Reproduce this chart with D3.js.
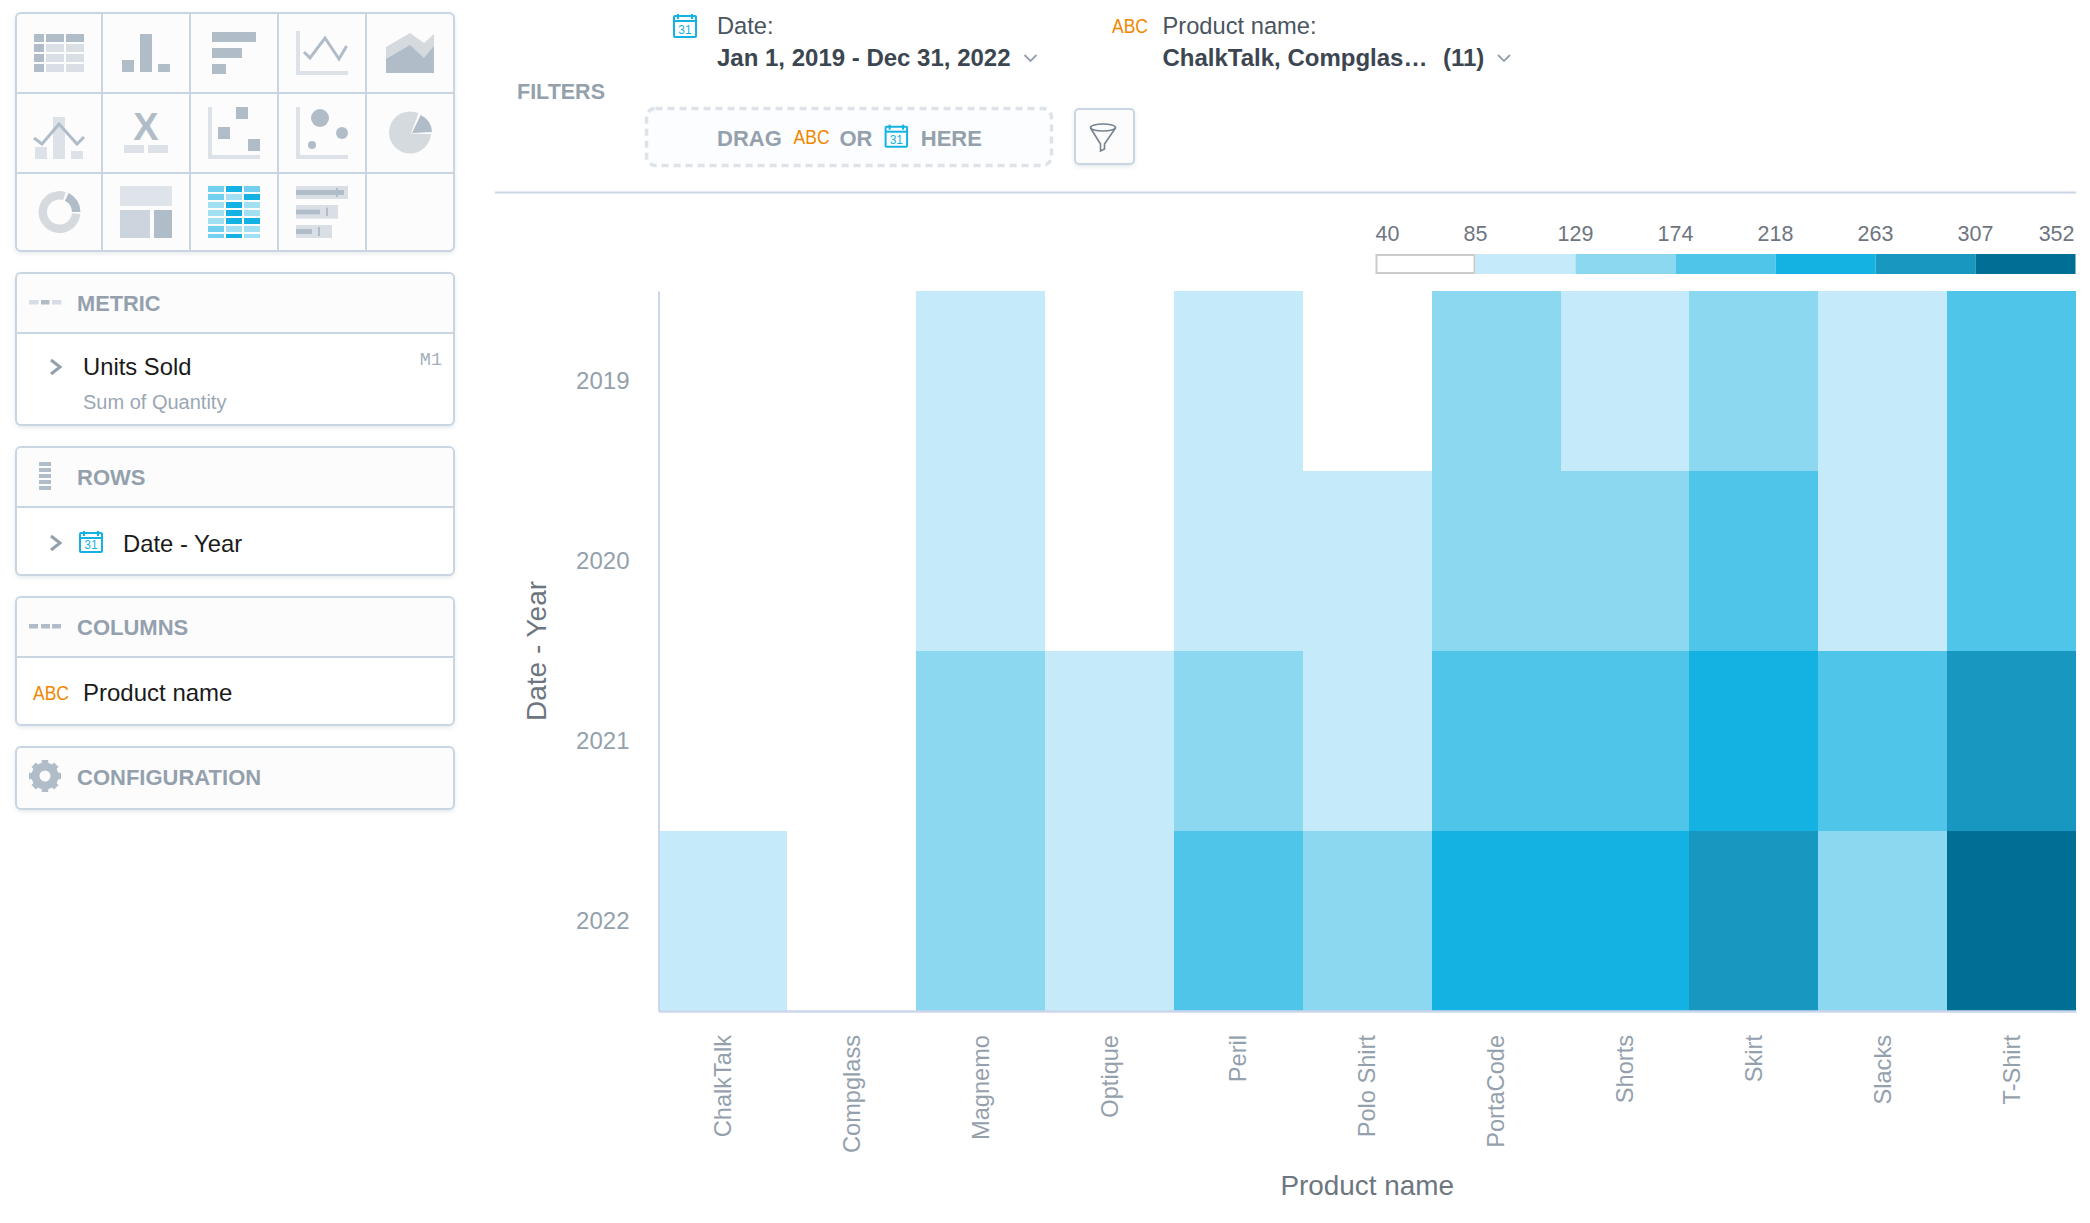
<!DOCTYPE html>
<html>
<head>
<meta charset="utf-8">
<title>Units Sold heatmap</title>
<script src="https://cdn.jsdelivr.net/npm/d3@7"></script>
<style>
  html, body { margin: 0; padding: 0; background: #fff; }
  svg { display: block; }
  text { font-family: "Liberation Sans", Arial, sans-serif; }
  .panel { filter: drop-shadow(0 2px 2px rgba(20, 56, 93, 0.1)); }
</style>
</head>
<body>
<div id="chart"></div>
<script>
// Chart values
const products = ['ChalkTalk', 'Compglass', 'Magnemo', 'Optique', 'Peril', 'Polo Shirt', 'PortaCode', 'Shorts', 'Skirt', 'Slacks', 'T-Shirt'];
const years = ['2019', '2020', '2021', '2022'];
const units2019 = [48, 40, 104, 52, 97, 70, 141, 102, 150, 110, 190];
const units2020 = [55, 44, 112, 61, 108, 92, 155, 133, 185, 118, 205];
const units2021 = [66, 48, 150, 88, 168, 124, 196, 205, 245, 178, 290];
const units2022 = [95, 72, 146, 113, 198, 160, 232, 240, 300, 165, 352];
const legendTicks = [40, 85, 129, 174, 218, 263, 307, 352];
const legendColors = ['#ffffff', '#c5ebfa', '#8cd8f1', '#4fc5ea', '#14b2e2', '#1898c0', '#006f95'];

const unitsByYear = [units2019, units2020, units2021, units2022];

const GREY_TEXT = '#94a1ad';
const BORDER = '#c9d5e3';
const ICON_DARK = '#b0bdc8';
const ICON_LIGHT = '#dde2e8';
const CYAN = '#14b2e2';
const ORANGE = '#f18700';

const svg = d3.select('#chart').append('svg')
    .attr('width', 2090)
    .attr('height', 1223)
    .attr('viewBox', '0 0 2090 1223');

// small helpers for the application chrome around the chart
function addText(parent, str, x, y, size, color, weight, anchor) {
    return parent.append('text')
        .attr('x', x)
        .attr('y', y)
        .attr('font-size', size)
        .attr('fill', color)
        .attr('font-weight', weight || 'normal')
        .attr('text-anchor', anchor || 'start')
        .text(str);
}

function addRect(parent, x, y, w, h, fill) {
    return parent.append('rect')
        .attr('x', x).attr('y', y)
        .attr('width', w).attr('height', h)
        .attr('fill', fill);
}

function addCalendar(parent, x, y, w, h) {
    const g = parent.append('g');
    g.append('rect')
        .attr('x', x + 1).attr('y', y + 2)
        .attr('width', w - 2).attr('height', h - 3)
        .attr('rx', 1)
        .attr('fill', 'none').attr('stroke', CYAN).attr('stroke-width', 2);
    addRect(g, x + 1, y + 6, w - 2, 2, CYAN);
    addRect(g, x + 4, y, 2, 5, CYAN);
    addRect(g, x + w - 6, y, 2, 5, CYAN);
    addText(g, '31', x + w / 2, y + h - 4, 12, CYAN, 'normal', 'middle');
}

// the ABC glyphs are tall and narrow in the original
function addAbc(parent, x, y) {
    addText(parent, 'ABC', x, y, 20, ORANGE)
        .attr('textLength', 36)
        .attr('lengthAdjust', 'spacingAndGlyphs');
}

function addChevronRight(parent, cx, cy) {
    parent.append('path')
        .attr('d', `M${cx - 4.5},${cy - 7}L${cx + 4.5},${cy}L${cx - 4.5},${cy + 7}`)
        .attr('fill', 'none').attr('stroke', GREY_TEXT).attr('stroke-width', 3);
}

function addChevronDown(parent, cx, cy) {
    parent.append('path')
        .attr('d', `M${cx - 6},${cy - 3}L${cx},${cy + 3}L${cx + 6},${cy - 3}`)
        .attr('fill', 'none').attr('stroke', GREY_TEXT).attr('stroke-width', 1.8);
}

function addPanel(y, height, dividerY) {
    const g = svg.append('g').attr('class', 'panel');
    g.append('rect')
        .attr('x', 16).attr('y', y)
        .attr('width', 438).attr('height', height)
        .attr('rx', 5)
        .attr('fill', dividerY ? '#fff' : '#fcfcfd')
        .attr('stroke', BORDER).attr('stroke-width', 2);
    if (dividerY) {
        g.append('path')
            .attr('d', `M17,${dividerY}V${y + 5}Q17,${y + 1} 21,${y + 1}H449Q453,${y + 1} 453,${y + 5}V${dividerY}Z`)
            .attr('fill', '#fcfcfd');
        addRect(g, 16, dividerY - 1, 438, 2, BORDER);
    }
    return svg.append('g');
}

// Visualization type picker
function drawPicker() {
    const g = svg.append('g').attr('class', 'panel');
    g.append('rect')
        .attr('x', 16).attr('y', 13)
        .attr('width', 438).attr('height', 238)
        .attr('rx', 5)
        .attr('fill', '#fcfcfd')
        .attr('stroke', BORDER).attr('stroke-width', 2);
    [102, 190, 278, 366].forEach(x => addRect(g, x - 1, 13, 2, 238, BORDER));
    [93, 173].forEach(y => addRect(g, 16, y - 1, 438, 2, BORDER));

    const icons = svg.append('g');
    const box = (x0, y0, x1, y1, fill) => addRect(icons, x0 / 3, y0 / 3, (x1 - x0) / 3, (y1 - y0) / 3, fill);
    const line = (pts, color) => icons.append('path')
        .attr('d', d3.line()(pts.map(p => [p[0] / 3, p[1] / 3])))
        .attr('fill', 'none').attr('stroke', color).attr('stroke-width', 3);
    const poly = (pts, color) => icons.append('path')
        .attr('d', d3.line()(pts.map(p => [p[0] / 3, p[1] / 3])) + 'Z')
        .attr('fill', color);

    // table
    [[102, 132], [138, 192], [198, 252]].forEach((c, i) => {
        [[102, 126], [132, 156], [162, 186], [192, 216]].forEach((r, j) => {
            box(c[0], r[0], c[1], r[1], (i === 0 || j === 0) ? ICON_DARK : '#d9dfe4');
        });
    });
    // column chart
    box(366, 180, 402, 216, ICON_DARK);
    box(420, 102, 456, 216, ICON_DARK);
    box(474, 192, 510, 216, ICON_DARK);
    // bar chart
    box(636, 96, 768, 126, ICON_DARK);
    box(636, 144, 726, 174, ICON_DARK);
    box(636, 192, 678, 222, ICON_DARK);
    // line chart
    box(888, 93, 900, 225, ICON_LIGHT);
    box(888, 213, 1044, 225, ICON_LIGHT);
    line([[912, 156], [930, 174], [975, 114], [1017, 177], [1040, 138]], ICON_DARK);
    // area chart
    poly([[1158, 141], [1230, 99], [1272, 129], [1302, 102], [1302, 219], [1158, 219]], '#d5dade');
    poly([[1158, 177], [1230, 135], [1272, 174], [1302, 138], [1302, 219], [1158, 219]], ICON_DARK);
    // combo
    box(105, 441, 141, 477, ICON_LIGHT);
    box(159, 351, 195, 477, ICON_LIGHT);
    box(213, 453, 249, 477, ICON_LIGHT);
    line([[102, 414], [126, 432], [177, 372], [231, 432], [252, 411]], ICON_DARK);
    // headline
    addText(icons, 'X', 146, 139.5, 38, ICON_DARK, 'bold', 'middle');
    box(372, 435, 432, 459, ICON_LIGHT);
    box(444, 435, 504, 459, ICON_LIGHT);
    // scatter
    box(624, 321, 636, 477, ICON_LIGHT);
    box(624, 465, 780, 477, ICON_LIGHT);
    box(708, 321, 744, 357, ICON_DARK);
    box(654, 381, 690, 417, ICON_DARK);
    box(744, 417, 780, 453, ICON_DARK);
    // bubble
    box(888, 321, 900, 477, ICON_LIGHT);
    box(888, 465, 1044, 477, ICON_LIGHT);
    [[960, 354, 27], [1026, 399, 18], [936, 435, 12]].forEach(c => {
        icons.append('circle').attr('cx', c[0] / 3).attr('cy', c[1] / 3).attr('r', c[2] / 3).attr('fill', ICON_DARK);
    });
    // pie
    icons.append('circle').attr('cx', 410).attr('cy', 132.5).attr('r', 21).attr('fill', '#d5dade');
    icons.append('path')
        .attr('transform', 'translate(411,133.5)')
        .attr('d', d3.arc()({ innerRadius: 0, outerRadius: 23, startAngle: 0.35, endAngle: Math.PI / 2 + 0.03 }))
        .attr('fill', '#fcfcfd');
    icons.append('path')
        .attr('transform', 'translate(412,133)')
        .attr('d', d3.arc()({ innerRadius: 0, outerRadius: 20, startAngle: 0.45, endAngle: Math.PI / 2 - 0.05 }))
        .attr('fill', ICON_DARK);
    // donut
    icons.append('path')
        .attr('transform', 'translate(59.5,212)')
        .attr('d', d3.arc()({ innerRadius: 12.5, outerRadius: 21, startAngle: Math.PI / 2 + 0.1, endAngle: Math.PI * 2 + 0.3 }))
        .attr('fill', '#d5dade');
    icons.append('path')
        .attr('transform', 'translate(59.5,212)')
        .attr('d', d3.arc()({ innerRadius: 12.5, outerRadius: 21, startAngle: 0.45, endAngle: Math.PI / 2 }))
        .attr('fill', ICON_DARK);
    // treemap
    box(360, 558, 516, 618, '#dfe4eb');
    box(360, 630, 450, 714, '#ccd4dd');
    box(462, 630, 516, 714, ICON_DARK);
    // heatmap
    const heatRows = [[558, 576], [582, 600], [606, 624], [630, 648], [654, 672], [678, 696], [702, 714]];
    const heatCols = [[624, 672], [678, 726], [732, 780]];
    const heatShades = [
        ['#72cff0', CYAN, '#72cff0'],
        ['#72cff0', '#a1e0f3', CYAN],
        ['#a1e0f3', CYAN, '#a1e0f3'],
        ['#a1e0f3', CYAN, '#a1e0f3'],
        ['#a1e0f3', CYAN, CYAN],
        ['#72cff0', '#a1e0f3', '#a1e0f3'],
        ['#72cff0', CYAN, '#a1e0f3']
    ];
    heatRows.forEach((r, j) => heatCols.forEach((c, i) => box(c[0], r[0], c[1], r[1], heatShades[j][i])));
    // bullet
    box(888, 558, 1044, 597, '#d9dfe4');
    box(888, 570, 1032, 585, ICON_DARK);
    box(1008, 564, 1014, 591, ICON_DARK);
    box(888, 615, 1014, 656, '#d9dfe4');
    box(888, 629, 960, 643, ICON_DARK);
    box(978, 623, 984, 648, ICON_DARK);
    box(888, 675, 996, 714, '#d9dfe4');
    box(888, 687, 936, 702, ICON_DARK);
    box(954, 681, 960, 708, ICON_DARK);
}

// Left side buckets: metric, rows, columns, configuration
function drawBuckets() {
    // METRIC
    let g = addPanel(273, 152, 333);
    addRect(g, 29, 300, 9.5, 4.5, '#d6dde6');
    addRect(g, 41, 300, 8.5, 4.5, ICON_DARK);
    addRect(g, 52, 300, 9.5, 4.5, '#d6dde6');
    addText(g, 'METRIC', 77, 311, 21.8, GREY_TEXT, 'bold');
    addChevronRight(g, 55.5, 367);
    addText(g, 'Units Sold', 83, 375, 23.8, '#1a1a1a');
    addText(g, 'Sum of Quantity', 83, 409, 20, '#9aa7b3');
    addText(g, 'M1', 442, 365, 18.5, '#a4afba', 'normal', 'end').style('font-family', '"Liberation Mono", monospace');

    // ROWS
    g = addPanel(447, 128, 507);
    [462, 468, 474, 480, 486].forEach(y => addRect(g, 39, y, 12, 4, ICON_DARK));
    addText(g, 'ROWS', 77, 485, 22, GREY_TEXT, 'bold');
    addChevronRight(g, 55.5, 543);
    addCalendar(g, 79, 531, 24, 22);
    addText(g, 'Date - Year', 123, 551.5, 23.8, '#1a1a1a');

    // COLUMNS
    g = addPanel(597, 128, 657);
    [29, 41, 52].forEach(x => addRect(g, x, 624, 9, 4.5, ICON_DARK));
    addText(g, 'COLUMNS', 77, 635, 22, GREY_TEXT, 'bold');
    addAbc(g, 33, 700);
    addText(g, 'Product name', 83, 701, 24, '#1a1a1a');

    // CONFIGURATION
    g = addPanel(747, 62);
    const gear = g.append('g').attr('transform', 'translate(45,776)');
    gear.append('circle').attr('r', 9.5).attr('fill', 'none').attr('stroke', ICON_DARK).attr('stroke-width', 8);
    d3.range(8).forEach(i => {
        gear.append('rect')
            .attr('x', -3.2).attr('y', -16)
            .attr('width', 6.4).attr('height', 6)
            .attr('fill', ICON_DARK)
            .attr('transform', `rotate(${i * 45})`);
    });
    addText(g, 'CONFIGURATION', 77, 785, 22, GREY_TEXT, 'bold');
}

// Filter bar above the chart
function drawFilterBar() {
    const g = svg.append('g');
    addCalendar(g, 673, 14, 24, 24);
    addText(g, 'Date:', 717, 33.5, 23.7, '#4a5560');
    addText(g, 'Jan 1, 2019 - Dec 31, 2022', 717, 66, 24, '#3b4650', 'bold');
    addChevronDown(g, 1030.5, 58);

    addAbc(g, 1112, 33);
    addText(g, 'Product name:', 1162.5, 33.5, 23.7, '#4a5560');
    addText(g, 'ChalkTalk, Compglas…', 1162.5, 66, 24, '#3b4650', 'bold');
    addText(g, '(11)', 1443, 66, 24, '#3b4650', 'bold');
    addChevronDown(g, 1504, 58);

    addText(g, 'FILTERS', 517, 99, 21.5, GREY_TEXT, 'bold');

    g.append('rect')
        .attr('x', 646.5).attr('y', 108.5)
        .attr('width', 405).attr('height', 57)
        .attr('rx', 9)
        .attr('fill', '#fcfdfe')
        .attr('stroke', '#dde3e9').attr('stroke-width', 3.5)
        .attr('stroke-dasharray', '7,5');
    addText(g, 'DRAG', 717, 145.7, 22, GREY_TEXT, 'bold');
    addAbc(g, 793.6, 143.7);
    addText(g, 'OR', 839.5, 145.7, 22, GREY_TEXT, 'bold');
    addCalendar(g, 884.6, 124.7, 23.5, 23);
    addText(g, 'HERE', 920.8, 145.7, 22, GREY_TEXT, 'bold');

    const button = svg.append('g').attr('class', 'panel');
    button.append('rect')
        .attr('x', 1075).attr('y', 109)
        .attr('width', 59).attr('height', 55)
        .attr('rx', 4)
        .attr('fill', '#fcfcfd')
        .attr('stroke', BORDER).attr('stroke-width', 2);
    const funnel = svg.append('g').attr('fill', 'none').attr('stroke', '#76838f').attr('stroke-width', 1.6);
    funnel.append('ellipse').attr('cx', 1103).attr('cy', 127.5).attr('rx', 12.5).attr('ry', 3.5);
    funnel.append('path').attr('d', 'M1090.5,128L1100.5,144V151L1104.5,149V144L1115.5,128');

    addRect(svg, 495, 191.5, 1581, 2, BORDER);
}

// The heatmap itself
function drawHeatmap() {
    const plot = { left: 658.5, right: 2076, top: 291, bottom: 1011 };

    const x = d3.scaleBand().domain(products).range([plot.left, plot.right]);
    const y = d3.scaleBand().domain(years).range([plot.top, plot.bottom]);
    const color = d3.scaleThreshold().domain(legendTicks.slice(1, -1)).range(legendColors);

    const cells = [];
    years.forEach((year, i) => {
        products.forEach((product, j) => {
            cells.push({ year, product, value: unitsByYear[i][j] });
        });
    });

    svg.append('g').selectAll('rect')
        .data(cells)
        .enter()
        .append('rect')
        .attr('x', d => x(d.product))
        .attr('y', d => y(d.year))
        .attr('width', x.bandwidth())
        .attr('height', y.bandwidth())
        .attr('fill', d => color(d.value))
        .attr('shape-rendering', 'crispEdges');

    const xAxis = svg.append('g')
        .attr('transform', `translate(0,${plot.bottom})`)
        .call(d3.axisBottom(x).tickSize(0));
    xAxis.select('.domain').attr('stroke', '#ccd6eb').attr('stroke-width', 2.5);
    xAxis.selectAll('text')
        .attr('x', 0).attr('y', 0).attr('dy', null)
        .attr('transform', 'translate(8,24) rotate(-90)')
        .attr('text-anchor', 'end')
        .attr('font-size', 23.6)
        .attr('fill', GREY_TEXT);

    const yAxis = svg.append('g')
        .attr('transform', `translate(${plot.left},0)`)
        .call(d3.axisLeft(y).tickSize(0));
    yAxis.select('.domain').attr('stroke', '#ccd6eb').attr('stroke-width', 2);
    yAxis.selectAll('text')
        .attr('x', -29)
        .attr('font-size', 24)
        .attr('fill', GREY_TEXT);

    addText(svg, 'Product name', (plot.left + plot.right) / 2, 1195, 27.9, '#6d7680', 'normal', 'middle');
    svg.append('text')
        .attr('transform', `translate(546,${(plot.top + plot.bottom) / 2}) rotate(-90)`)
        .attr('text-anchor', 'middle')
        .attr('font-size', 28)
        .attr('fill', '#6d7680')
        .text('Date - Year');

    // Legend: one box for each colour, tick values at the box edges
    const legendX = d3.scaleLinear().domain([0, legendColors.length]).range([1375.5, 2075.5]);
    const legend = svg.append('g');
    legend.selectAll('rect')
        .data(legendColors)
        .enter()
        .append('rect')
        .attr('x', (d, i) => legendX(i))
        .attr('y', 254)
        .attr('width', legendX(1) - legendX(0))
        .attr('height', 20)
        .attr('fill', d => d);
    legend.append('rect')
        .attr('x', legendX(0) + 1).attr('y', 255)
        .attr('width', legendX(1) - legendX(0) - 2).attr('height', 18)
        .attr('fill', 'none').attr('stroke', '#cccccc').attr('stroke-width', 2);
    legend.selectAll('text')
        .data(legendTicks)
        .enter()
        .append('text')
        .attr('x', (d, i) => i === legendTicks.length - 1 ? legendX(i) - 1 : legendX(i))
        .attr('y', 240.5)
        .attr('font-size', 21.5)
        .attr('fill', '#6e7580')
        .attr('text-anchor', (d, i) => i === 0 ? 'start' : (i === legendTicks.length - 1 ? 'end' : 'middle'))
        .text(d => d);
}

drawPicker();
drawBuckets();
drawFilterBar();
drawHeatmap();
</script>
</body>
</html>
